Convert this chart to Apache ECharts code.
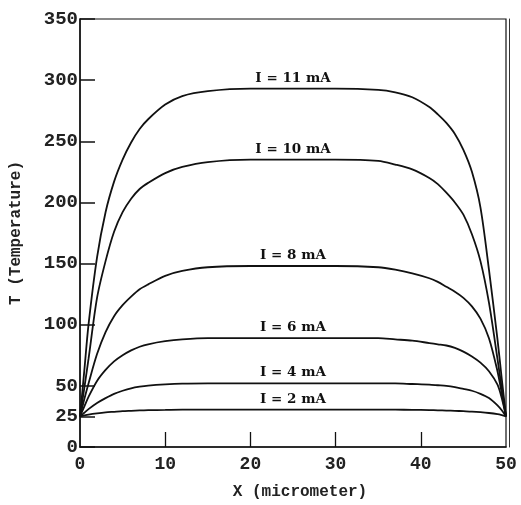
<!DOCTYPE html>
<html>
<head>
<meta charset="utf-8">
<script src="https://cdn.jsdelivr.net/npm/echarts@6/dist/echarts.min.js"></script>
<style>
html,body{margin:0;padding:0;background:#fff;}
#chart{width:521px;height:505px;}
</style>
</head>
<body>
<div id="chart"></div>
<script>
// X positions (micrometer)
var xPositions = [0, 0.5, 1, 2, 3, 4, 5, 6, 7, 8, 10, 12, 15, 20, 25, 30, 35, 37, 39, 41, 42, 43, 44, 45, 46, 47, 48, 49, 49.5, 50];
// Temperature profiles for each current
var tI11 = [25, 62, 100, 155, 192, 217, 235, 249, 260, 268, 280, 287, 291, 293, 293, 293, 292, 290, 286, 278, 272, 265, 256, 243, 225, 196, 145, 88, 56, 25];
var tI10 = [25, 48, 72, 122, 152, 176, 192, 203, 211, 216, 224, 229, 233, 235, 235, 235, 234, 231, 227, 220, 215, 208, 200, 190, 174, 152, 118, 72, 48, 25];
var tI8  = [25, 39, 52, 76, 94, 107, 116, 123, 129, 133, 140, 144, 147, 148, 148, 148, 147, 145, 142, 138, 135, 131, 127, 122, 115, 105, 89, 62, 44, 25];
var tI6  = [25, 33, 41, 54, 63, 70, 75, 79, 82, 84, 86.5, 88, 89, 89, 89, 89, 89, 88, 87, 85, 84, 83, 81, 78, 74, 69, 62, 51, 40, 25];
var tI4  = [25, 28, 31, 36, 40, 43.5, 46, 48, 49.3, 50.2, 51.2, 51.8, 52, 52, 52, 52, 52, 52, 51.5, 51, 50.5, 50, 49, 47.5, 46, 43.5, 40, 34, 30, 25];
var tI2  = [25, 25.8, 26.5, 27.5, 28.3, 28.8, 29.3, 29.6, 29.9, 30.1, 30.3, 30.5, 30.5, 30.5, 30.5, 30.5, 30.5, 30.5, 30.4, 30.2, 30, 29.8, 29.6, 29.3, 29, 28.5, 27.8, 26.8, 26, 25];
var seriesNames = ['I = 11 mA', 'I = 10 mA', 'I = 8 mA', 'I = 6 mA', 'I = 4 mA', 'I = 2 mA'];
var seriesValues = [tI11, tI10, tI8, tI6, tI4, tI2];
var labelAtX = 25;
var yTickValues = [0, 25, 50, 100, 150, 200, 250, 300, 350];
var xTickValues = [10, 20, 30, 40];
var xLabelValues = [0, 10, 20, 30, 40, 50];

var monoFont = '"Liberation Mono", "DejaVu Sans Mono", monospace';

var series = seriesNames.map(function (name, si) {
  var vals = seriesValues[si];
  var li = xPositions.indexOf(labelAtX);
  return {
    name: name,
    type: 'line',
    smooth: 0.3,
    symbol: 'none',
    lineStyle: { color: '#111', width: 1.8 },
    data: xPositions.map(function (x, i) { return [x, vals[i]]; }),
    markPoint: {
      symbol: 'circle',
      symbolSize: 1,
      itemStyle: { color: 'rgba(0,0,0,0)' },
      silent: true,
      data: [{
        coord: [xPositions[li], vals[li]],
        label: {
          show: true,
          position: 'top',
          distance: 3,
          formatter: name,
          fontFamily: '"DejaVu Serif", serif',
          fontWeight: 'bold',
          fontSize: 13.5,
          color: '#111'
        }
      }]
    },
    z: 3
  };
});

var chart = echarts.init(document.getElementById('chart'), null, { renderer: 'canvas' });
chart.setOption({
  backgroundColor: '#fff',
  animation: false,
  grid: {
    left: 79, right: 15, top: 19, bottom: 57,
    show: true, borderColor: '#111', borderWidth: 1.2, backgroundColor: 'transparent'
  },
  xAxis: {
    type: 'value', min: 0, max: 50, interval: 10,
    name: 'X (micrometer)', nameLocation: 'middle', nameGap: 37,
    nameTextStyle: { fontFamily: monoFont, fontWeight: 'bold', fontSize: 16, color: '#222', padding: [0, 0, 0, 14] },
    axisLine: { show: true, lineStyle: { color: '#111', width: 1.5 } },
    axisTick: { show: true, inside: true, length: 15, customValues: xTickValues, lineStyle: { color: '#111', width: 1.3 } },
    axisLabel: { customValues: xLabelValues, margin: 8, fontFamily: monoFont, fontWeight: 'bold', fontSize: 18, color: '#222' },
    splitLine: { show: false }
  },
  yAxis: [{
    type: 'value', min: 0, max: 350, interval: 25,
    name: 'T (Temperature)', nameLocation: 'middle', nameGap: 56, nameRotate: 90,
    nameTextStyle: { fontFamily: monoFont, fontWeight: 'bold', fontSize: 16, color: '#222' },
    axisLine: { show: true, lineStyle: { color: '#111', width: 1.5 } },
    axisTick: { show: true, inside: true, length: 15, customValues: yTickValues, lineStyle: { color: '#111', width: 1.5 } },
    axisLabel: { customValues: yTickValues, margin: 2, fontFamily: monoFont, fontWeight: 'bold', fontSize: 19, color: '#222' },
    splitLine: { show: false }
  }, {
    type: 'value', min: 0, max: 350, position: 'right', offset: 3,
    axisLine: { show: true, lineStyle: { color: '#333', width: 1 } },
    axisTick: { show: false }, axisLabel: { show: false }, splitLine: { show: false }
  }],
  series: series
});
</script>
</body>
</html>
